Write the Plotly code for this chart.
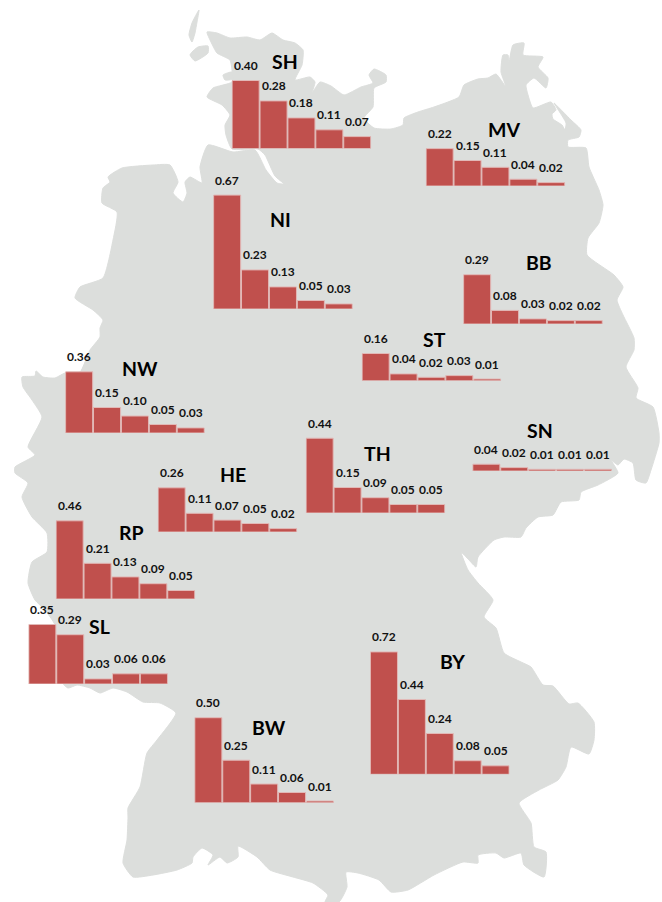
import plotly.graph_objects as go

W, H = 662, 902

# --- data ---
STATES = ["SH", "MV", "NI", "BB", "ST", "NW", "TH", "SN", "HE", "RP", "SL", "BW", "BY"]
CATEGORIES = [1, 2, 3, 4, 5]
SH = [0.40, 0.28, 0.18, 0.11, 0.07]
MV = [0.22, 0.15, 0.11, 0.04, 0.02]
NI = [0.67, 0.23, 0.13, 0.05, 0.03]
BB = [0.29, 0.08, 0.03, 0.02, 0.02]
ST = [0.16, 0.04, 0.02, 0.03, 0.01]
NW = [0.36, 0.15, 0.10, 0.05, 0.03]
TH = [0.44, 0.15, 0.09, 0.05, 0.05]
SN = [0.04, 0.02, 0.01, 0.01, 0.01]
HE = [0.26, 0.11, 0.07, 0.05, 0.02]
RP = [0.46, 0.21, 0.13, 0.09, 0.05]
SL = [0.35, 0.29, 0.03, 0.06, 0.06]
BW = [0.50, 0.25, 0.11, 0.06, 0.01]
BY = [0.72, 0.44, 0.24, 0.08, 0.05]
VALUES = dict(SH=SH, MV=MV, NI=NI, BB=BB, ST=ST, NW=NW, TH=TH, SN=SN, HE=HE, RP=RP, SL=SL, BW=BW, BY=BY)

# --- placement of each small chart on the map (left edge, baseline, label centre), in page pixels ---
PLACE = dict(
    SH=(231.7, 148.5, 285, 62), MV=(425.7, 186, 504, 129), NI=(213.2, 309, 280, 219),
    BB=(463.2, 324, 539, 263), ST=(361.7, 380.7, 434, 339), NW=(65.2, 433, 140, 368),
    TH=(305.7, 513, 377, 453), SN=(472.4, 471, 540, 431), HE=(157.7, 532, 233, 474),
    RP=(55.7, 599, 131, 532), SL=(28.4, 684, 99, 626), BW=(194.4, 802.7, 269, 727),
    BY=(370, 774.3, 452, 661),
)
CHART_W = 139.5
PX_PER_UNIT = 170
Y_MAX = 0.8

# --- map backdrop outline (page pixels) ---
MAP_MAIN = [
    (207,32),(217,33),(230,38),(247,37),(260,40),(272,33),(283,40),(295,43),(303,50),(302,65),(295,80),
    (310,77),(315,82),(312,93),(320,82),(331,86),(344,95),(361,87),(373,83),(369,75),(374,69),(386,75),
    (386,82),(374,88),(373,107),(364,118),(374,128),(391,129),(403,125),(404,118),(418,112),(434,107),
    (459,97),(464,85),(478,79),(488,78),(496,74),(506,87),(501,72),(503,55),(508,55),(509,62),(513,45),
    (524,43),(523,55),(543,57),(538,67),(548,78),(546,88),(534,78),(526,85),(528,95),(533,108),(551,102),
    (556,110),(552,114),(553,119),(562,125),(565,130),(566,123),(559,111),(554,103),
    (571,120),(581,130),(579,137),(568,140),(568,147),(586,148),(589,167),(599,190),(603,205),(599,223),
    (588,238),(587,255),(614,275),(623,287),(617,300),(623,315),(634,338),(634,350),(626,367),(638,388),
    (636,398),(653,407),(659,433),(659,443),(651,470),(646,483),(636,480),(633,463),(624,459),(618,465),
    (611,460),(618,473),(598,485),(581,492),(579,500),(561,502),(553,515),(538,517),(526,528),(521,537),
    (504,537),(494,540),(478,557),(476,567),(469,560),(461,552),(468,570),(478,583),(493,600),(484,617),
    (496,628),(504,653),(521,662),(531,667),(543,685),(553,686),(569,704),(578,703),(594,722),(594,740),
    (589,754),(571,747),(566,767),(558,780),(539,790),(519,803),(531,823),(534,847),(546,852),(544,877),
    (524,865),(521,853),(504,858),(496,853),(478,855),(478,863),(463,862),(434,875),(408,890),(391,892),
    (379,880),(358,873),(346,872),(347,887),(339,902),(325,902),(328,895),(313,883),(293,877),(270,870),
    (257,857),(238,846),(238,857),(227,863),(220,857),(208,865),(213,855),(202,848),(193,857),(192,863),
    (177,870),(153,875),(133,877),(123,863),(127,840),(128,817),(128,808),(140,787),(147,753),(157,740),
    (176,713),(160,703),(143,702),(127,692),(113,688),(100,693),(90,688),(77,685),(68,688),(60,680),
    (55,625),(45,610),(35,600),(28,583),(32,562),(47,552),(47,533),(32,517),(22,497),(28,483),(15,473),
    (15,467),(35,455),(28,447),(42,417),(32,400),(23,387),(22,377),(35,376),(36,371),(43,377),(55,378),
    (65,373),(80,372),(90,350),(100,337),(100,328),(103,320),(93,310),(75,298),(80,287),(103,278),
    (113,240),(117,212),(102,203),(103,188),(110,182),(108,177),(122,168),(153,165),(170,165),(178,182),
    (173,193),(183,202),(187,193),(185,182),(190,177),(202,183),(200,167),(208,145),(233,152),(255,150),
    (266,170),(277,183),(284,184),(275,176),(265,155),(258,149),(232,149),(226,135),(225,125),(230,115),
    (222,105),(207,97),(213,88),(232,82),(232,70),(230,60),(217,53),(211,42),
]
MAP_SYLT = [(199,10),(192,23),(189,35),(192,42),(195,33),(197,22)]
MAP_FOEHR = [(192,52),(198,47),(208,46),(208,53),(195,61),(190,55)]
MAP_AMRUM = [(223,75),(232,72),(233,79),(225,80)]
MAP_PARTS = [MAP_MAIN, MAP_SYLT, MAP_FOEHR, MAP_AMRUM]

GREY = "#DCDEDC"
RED = "#C0504D"
EDGE = "#E2B9B7"
INK = "#111111"

fig = go.Figure()

for part in MAP_PARTS:
    fig.add_trace(go.Scatter(
        x=[p[0] for p in part] + [part[0][0]],
        y=[p[1] for p in part] + [part[0][1]],
        mode="lines", fill="toself", fillcolor=GREY, line=dict(color=GREY, width=1, shape="spline", smoothing=0.5),
        hoverinfo="skip", showlegend=False, xaxis="x", yaxis="y",
    ))

layout = dict(
    xaxis=dict(domain=[0, 1], range=[0, W], visible=False, fixedrange=True),
    yaxis=dict(domain=[0, 1], range=[H, 0], visible=False, fixedrange=True),
)
annotations = []

for i, state in enumerate(STATES):
    n = i + 2
    left, base, lx, ly = PLACE[state]
    vals = VALUES[state]
    fig.add_trace(go.Bar(
        x=CATEGORIES, y=vals, marker=dict(color=RED, line=dict(color=EDGE, width=1)),
        showlegend=False, name=state, xaxis=f"x{n}", yaxis=f"y{n}",
    ))
    bottom = (H - base) / H
    top = (H - base + Y_MAX * PX_PER_UNIT) / H
    layout[f"xaxis{n}"] = dict(domain=[left / W, (left + CHART_W) / W], range=[0.5, 5.5],
                               visible=False, fixedrange=True, anchor=f"y{n}")
    layout[f"yaxis{n}"] = dict(domain=[bottom, top], range=[0, Y_MAX],
                               visible=False, fixedrange=True, anchor=f"x{n}")
    for c, v in zip(CATEGORIES, vals):
        annotations.append(dict(
            x=c, y=v, xref=f"x{n}", yref=f"y{n}", text=f"{v:.2f}", showarrow=False,
            xanchor="center", yanchor="middle", yshift=15,
            font=dict(family="Lato", size=12, color=INK, weight="bold"),
        ))
    annotations.append(dict(
        x=lx / W, y=1 - ly / H, xref="paper", yref="paper", text=state, showarrow=False,
        xanchor="center", yanchor="middle",
        font=dict(family="Lato", size=19.5, color="#000000", weight="bold"),
    ))

fig.update_layout(
    width=W, height=H, autosize=False, margin=dict(l=0, r=0, t=0, b=0, pad=0),
    paper_bgcolor="white", plot_bgcolor="rgba(0,0,0,0)", bargap=0.03, showlegend=False,
    annotations=annotations, **layout,
)

fig.write_html("out.html", config={"displayModeBar": False},
               post_script="document.body.style.margin='0';window.dispatchEvent(new Event('resize'));")
